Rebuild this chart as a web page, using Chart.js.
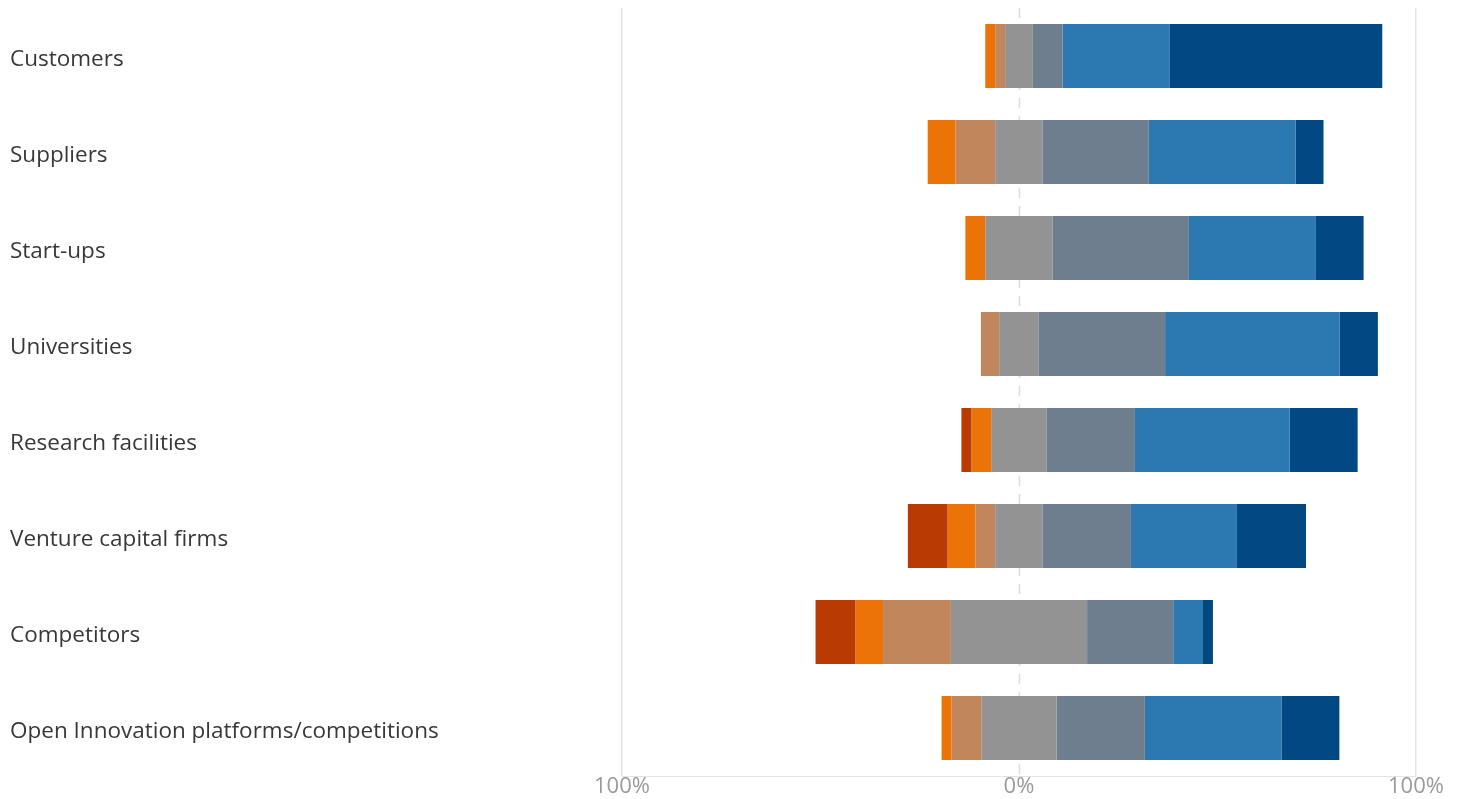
<!DOCTYPE html>
<html>
<head>
<meta charset="utf-8">
<script src="https://cdn.jsdelivr.net/npm/chart.js@4/dist/chart.umd.min.js"></script>
<style>
  html, body { margin: 0; padding: 0; background: #fff; }
  #wrap { width: 1463px; height: 799px; position: relative; }
</style>
</head>
<body>
<div id="wrap"><canvas id="chart"></canvas></div>
<script>
// categorias (filas)
const categories = ['Customers', 'Suppliers', 'Start-ups', 'Universities', 'Research facilities',
  'Venture capital firms', 'Competitors', 'Open Innovation platforms/competitions'];

// porcentajes por nivel de respuesta
const veryNegative = [0, 0, 0, 0, 2.5, 10, 10, 0];
const negative     = [2.5, 7, 5, 0, 5, 7, 7, 2.5];
const slightlyNeg  = [2.5, 10, 0, 4.6, 0, 5, 17.1, 7.5];
const neutral      = [7, 12, 17, 10, 14, 12, 34.3, 19];
const slightlyPos  = [7.5, 26.7, 34.3, 31.8, 22.2, 22.2, 21.7, 22.2];
const positive     = [27, 37, 32, 44, 39, 26.7, 7.5, 34.4];
const veryPositive = [53.5, 7, 12, 9.6, 17.1, 17.4, 2.5, 14.6];

const xTicks = [-100, 0, 100];

const series = [
  { label: 'Very negative', values: veryNegative, color: '#b93a03' },
  { label: 'Negative', values: negative, color: '#eb7307' },
  { label: 'Slightly negative', values: slightlyNeg, color: '#c1865c' },
  { label: 'Neutral', values: neutral, color: '#939393' },
  { label: 'Slightly positive', values: slightlyPos, color: '#6f7e8e' },
  { label: 'Positive', values: positive, color: '#2b79b0' },
  { label: 'Very positive', values: veryPositive, color: '#024882' }
];

// barras flotantes [inicio, fin], centradas en el neutral
const starts = categories.map((_, i) =>
  -(neutral[i] / 2 + slightlyNeg[i] + negative[i] + veryNegative[i]));
const cursor = starts.slice();

const datasets = series.map(s => ({
  label: s.label,
  backgroundColor: s.color,
  borderWidth: 0,
  barPercentage: 0.667,
  categoryPercentage: 1,
  data: s.values.map((v, i) => {
    const from = cursor[i];
    cursor[i] += v;
    return v ? [from, from + v] : null;
  })
}));

// linea discontinua en 0%
const zeroLine = {
  id: 'zeroLine',
  beforeDatasetsDraw(chart) {
    const x = chart.scales.x.getPixelForValue(0);
    const area = chart.chartArea;
    const ctx = chart.ctx;
    ctx.save();
    ctx.strokeStyle = '#dcdcdc';
    ctx.lineWidth = 1.5;
    ctx.setLineDash([10, 8]);
    ctx.beginPath();
    ctx.moveTo(Math.round(x) + 0.5, area.top);
    ctx.lineTo(Math.round(x) + 0.5, area.bottom);
    ctx.stroke();
    ctx.restore();
  }
};

new Chart(document.getElementById('chart'), {
  type: 'bar',
  data: { labels: categories, datasets },
  plugins: [zeroLine],
  options: {
    indexAxis: 'y',
    responsive: true,
    maintainAspectRatio: false,
    animation: false,
    layout: { padding: { left: 10, right: 47, top: 8, bottom: 0 } },
    plugins: { legend: { display: false }, tooltip: { enabled: false } },
    scales: {
      x: {
        min: -100,
        max: 100,
        afterBuildTicks: scale => { scale.ticks = xTicks.map(v => ({ value: v })); },
        afterFit: scale => { scale.height = 23; },
        grid: {
          drawTicks: false,
          color: ctx => ctx.tick && ctx.tick.value === 0 ? 'rgba(0,0,0,0)' : '#e3e3e3',
          lineWidth: 1.5
        },
        border: { display: true, color: '#e3e3e3' },
        ticks: {
          padding: -2,
          color: '#9a9a9a',
          font: { family: 'Open Sans', size: 22 },
          callback: v => Math.abs(v) + '%'
        }
      },
      y: {
        stacked: true,
        afterFit: scale => {
          scale.width = 612;
          scale.paddingTop = 0;
          scale.paddingBottom = 0;
        },
        grid: { display: false, drawTicks: false },
        border: { display: false },
        ticks: {
          crossAlign: 'far',
          padding: 0,
          labelOffset: 4,
          color: '#383838',
          font: { family: 'Open Sans', size: 22.5 }
        }
      }
    }
  }
});
</script>
</body>
</html>
